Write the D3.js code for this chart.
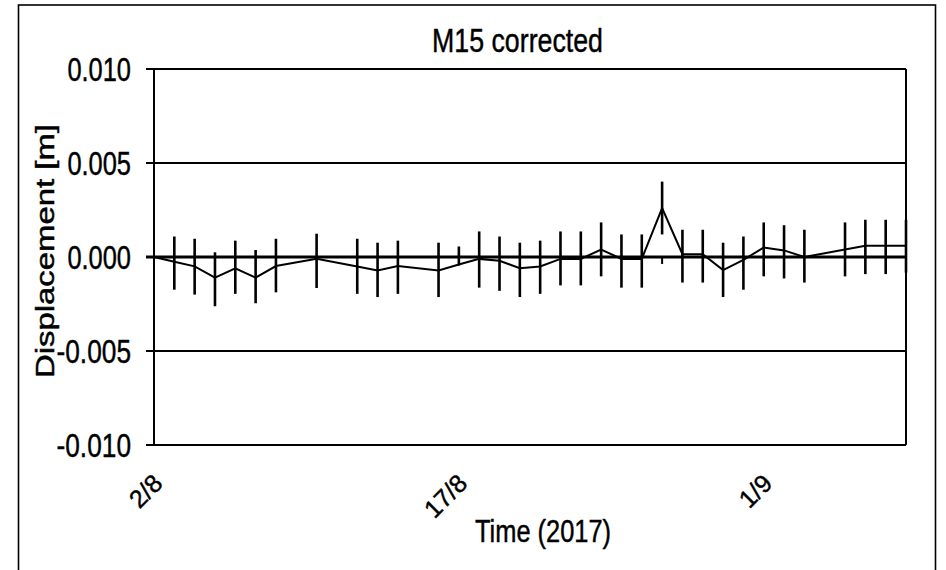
<!DOCTYPE html>
<html>
<head>
<meta charset="utf-8">
<script src="https://cdn.jsdelivr.net/npm/d3@7"></script>
<style>
  html, body { margin: 0; padding: 0; background: #fff; }
  svg { display: block; }
  text { font-family: "Liberation Sans", Arial, sans-serif; fill: #000; stroke: #000; stroke-width: 0.45px; }
</style>
</head>
<body>
<svg id="chart" width="946" height="570"></svg>
<script>
// ---- Data ----
const dates = ["2017-08-02","2017-08-03","2017-08-04","2017-08-05","2017-08-06","2017-08-07","2017-08-08",
  "2017-08-10","2017-08-12","2017-08-13","2017-08-14","2017-08-16","2017-08-17","2017-08-18","2017-08-19",
  "2017-08-20","2017-08-21","2017-08-22","2017-08-23","2017-08-24","2017-08-25","2017-08-26","2017-08-27",
  "2017-08-28","2017-08-29","2017-08-30","2017-08-31","2017-09-01","2017-09-02","2017-09-03","2017-09-05",
  "2017-09-06","2017-09-07","2017-09-08"];
const displacement = [0, -0.00025, -0.0005, -0.0011, -0.0006, -0.0011, -0.00048,
  -0.0001, -0.0005, -0.00072, -0.00048, -0.00072, -0.0004, -0.0001, -0.0002,
  -0.0006, -0.0005, -0.0001, -0.0001, 0.0004, -0.0001, -0.0001, 0.0026,
  0.00015, 0.00015, -0.0007, -0.00015, 0.0005, 0.00035, 0.0, 0.0004,
  0.0006, 0.0006, 0.0006];
const errUpper = [null, 0.00109, 0.00097, 0.00025, 0.00087, 0.00037, 0.00097,
  0.00124, 0.00097, 0.00076, 0.00087, 0.00076, 0.00056, 0.00136, 0.00109,
  0.00076, 0.00087, 0.00136, 0.00136, 0.00184, 0.0012, 0.0012, 0.00401,
  0.00145, 0.00145, 0.00076, 0.00109, 0.00184, 0.00169, 0.00145, 0.00184,
  0.00198, 0.00198, 0.00198];
const errLower = [null, -0.00174, -0.0020, -0.00262, -0.00196, -0.00246, -0.00188,
  -0.00165, -0.00196, -0.00213, -0.00196, -0.00213, -0.00045, -0.00163, -0.0018,
  -0.00213, -0.00196, -0.00151, -0.00151, -0.00103, -0.00163, -0.00163, 0.0012,
  -0.00136, -0.00136, -0.00213, -0.00174, -0.00103, -0.00114, -0.00136, -0.00103,
  -0.00091, -0.00091, -0.00083];
// small extra error segment visible below zero on 27/8
const extraDates = ["2017-08-27"];
const extraUpper = [0];
const extraLower = [-0.00037];

const yTicks = [0.010, 0.005, 0.000, -0.005, -0.010];
const yTickLabels = ["0.010", "0.005", "0.000", "-0.005", "-0.010"];
const xTickDates = ["2017-08-02", "2017-08-17", "2017-09-01"];
const xTickLabels = ["2/8", "17/8", "1/9"];
const chartTitle = "M15 corrected";
const xTitle = "Time (2017)";
const yTitle = "Displacement [m]";

// ---- Drawing ----
const parse = d3.timeParse("%Y-%m-%d");
const svg = d3.select("#chart");

const pLeft = 154, pRight = 906, pTop = 69, pBottom = 445;
const x = d3.scaleTime().domain([parse("2017-08-02"), parse("2017-09-08")]).range([pLeft, pRight]);
const y = d3.scaleLinear().domain([-0.010, 0.010]).range([pBottom, pTop]);

// outer frame
svg.append("rect").attr("x", 18.5).attr("y", 5).attr("width", 917).attr("height", 580)
  .attr("fill", "none").attr("stroke", "#000").attr("stroke-width", 1.6);

// gridlines (extend left as ticks)
svg.append("g").selectAll("line").data(yTicks).join("line")
  .attr("x1", pLeft - 8).attr("x2", pRight)
  .attr("y1", d => y(d)).attr("y2", d => y(d))
  .attr("stroke", "#000")
  .attr("stroke-width", d => d === 0 ? 3 : 2);

// plot borders: left axis, right side
svg.append("line").attr("x1", pLeft).attr("x2", pLeft).attr("y1", pTop).attr("y2", pBottom)
  .attr("stroke", "#000").attr("stroke-width", 2);
svg.append("line").attr("x1", pRight).attr("x2", pRight).attr("y1", pTop).attr("y2", pBottom)
  .attr("stroke", "#000").attr("stroke-width", 2);

const pts = dates.map((d, i) => ({ t: parse(d), v: displacement[i], hi: errUpper[i], lo: errLower[i] }));

// error bars
svg.append("g").selectAll("line").data(pts.filter(p => p.hi !== null)).join("line")
  .attr("x1", p => x(p.t)).attr("x2", p => x(p.t))
  .attr("y1", p => y(p.hi)).attr("y2", p => y(p.lo))
  .attr("stroke", "#000").attr("stroke-width", 2.6);

const extra = extraDates.map((d, i) => ({ t: parse(d), hi: extraUpper[i], lo: extraLower[i] }));
svg.append("g").selectAll("line").data(extra).join("line")
  .attr("x1", p => x(p.t)).attr("x2", p => x(p.t))
  .attr("y1", p => y(p.hi)).attr("y2", p => y(p.lo))
  .attr("stroke", "#000").attr("stroke-width", 2);

// data line
svg.append("path").datum(pts)
  .attr("fill", "none").attr("stroke", "#000").attr("stroke-width", 2)
  .attr("stroke-linejoin", "miter")
  .attr("d", d3.line().x(p => x(p.t)).y(p => y(p.v)));

// y tick labels (condensed)
const yLabW = yTickLabels.map(s => s.startsWith("-") ? 74.5 : 63.6);
svg.append("g").selectAll("text").data(yTicks).join("text")
  .attr("x", (d, i) => 131 - yLabW[i])
  .attr("y", d => y(d) + 12)
  .attr("font-size", 33)
  .attr("textLength", (d, i) => yLabW[i])
  .attr("lengthAdjust", "spacingAndGlyphs")
  .text((d, i) => yTickLabels[i]);

// x tick labels rotated
svg.append("g").selectAll("text").data(xTickDates).join("text")
  .attr("transform", d => `translate(${x(parse(d)) + 10},485) rotate(-45)`)
  .attr("text-anchor", "end")
  .attr("font-size", 25)
  .text((d, i) => xTickLabels[i]);

// title
svg.append("text").attr("x", 432).attr("y", 52).attr("font-size", 33)
  .attr("textLength", 171).attr("lengthAdjust", "spacingAndGlyphs").text(chartTitle);

// x title
svg.append("text").attr("x", 475).attr("y", 542).attr("font-size", 31)
  .attr("textLength", 136).attr("lengthAdjust", "spacingAndGlyphs").text(xTitle);

// y title
svg.append("text").attr("transform", "translate(54,378) rotate(-90)")
  .attr("font-size", 25)
  .attr("textLength", 254).attr("lengthAdjust", "spacingAndGlyphs").text(yTitle);
</script>
</body>
</html>
